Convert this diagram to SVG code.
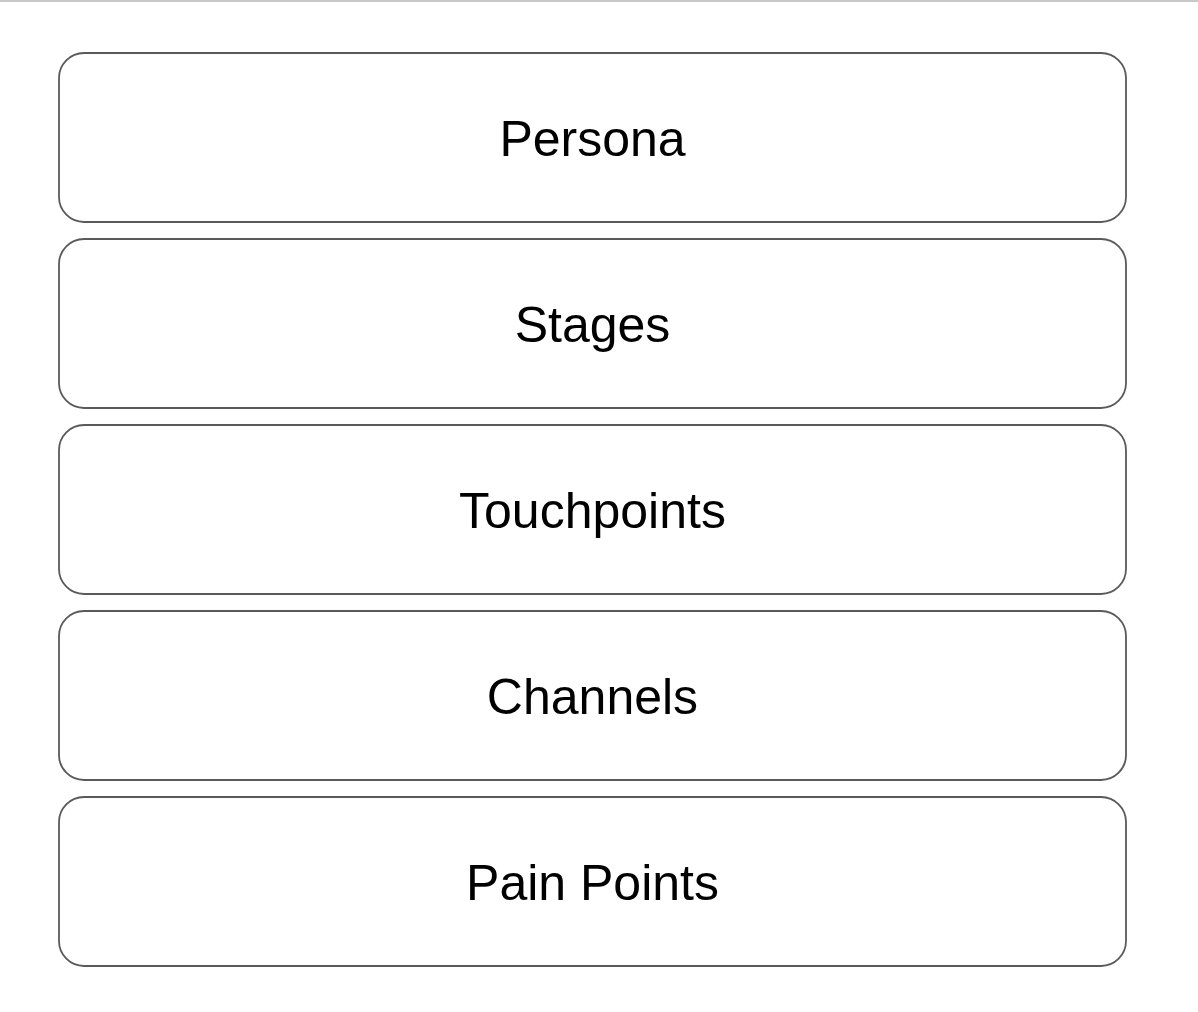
<svg xmlns="http://www.w3.org/2000/svg" width="1198" height="1012" viewBox="0 0 1198 1012">
  <style>
    .box { fill: #ffffff; stroke: #5a5a5a; stroke-width: 1.8; }
    .lbl { font-family: "Liberation Sans", Arial, sans-serif; font-size: 50px; fill: #000000; text-anchor: middle; }
  </style>
  <rect x="0" y="0" width="1198" height="1012" fill="#ffffff"/>
  <rect x="0" y="0" width="1198" height="2" fill="#c8c8c8"/>
  <g id="persona">
    <rect class="box" x="59" y="53" width="1067" height="169" rx="25" ry="25"/>
    <text class="lbl" x="592.5" y="156">Persona</text>
  </g>
  <g id="stages">
    <rect class="box" x="59" y="239" width="1067" height="169" rx="25" ry="25"/>
    <text class="lbl" x="592.5" y="342">Stages</text>
  </g>
  <g id="touchpoints">
    <rect class="box" x="59" y="425" width="1067" height="169" rx="25" ry="25"/>
    <text class="lbl" x="592.5" y="528">Touchpoints</text>
  </g>
  <g id="channels">
    <rect class="box" x="59" y="611" width="1067" height="169" rx="25" ry="25"/>
    <text class="lbl" x="592.5" y="714">Channels</text>
  </g>
  <g id="pain-points">
    <rect class="box" x="59" y="797" width="1067" height="169" rx="25" ry="25"/>
    <text class="lbl" x="592.5" y="900">Pain Points</text>
  </g>
  <g id="connectors"></g>
</svg>
